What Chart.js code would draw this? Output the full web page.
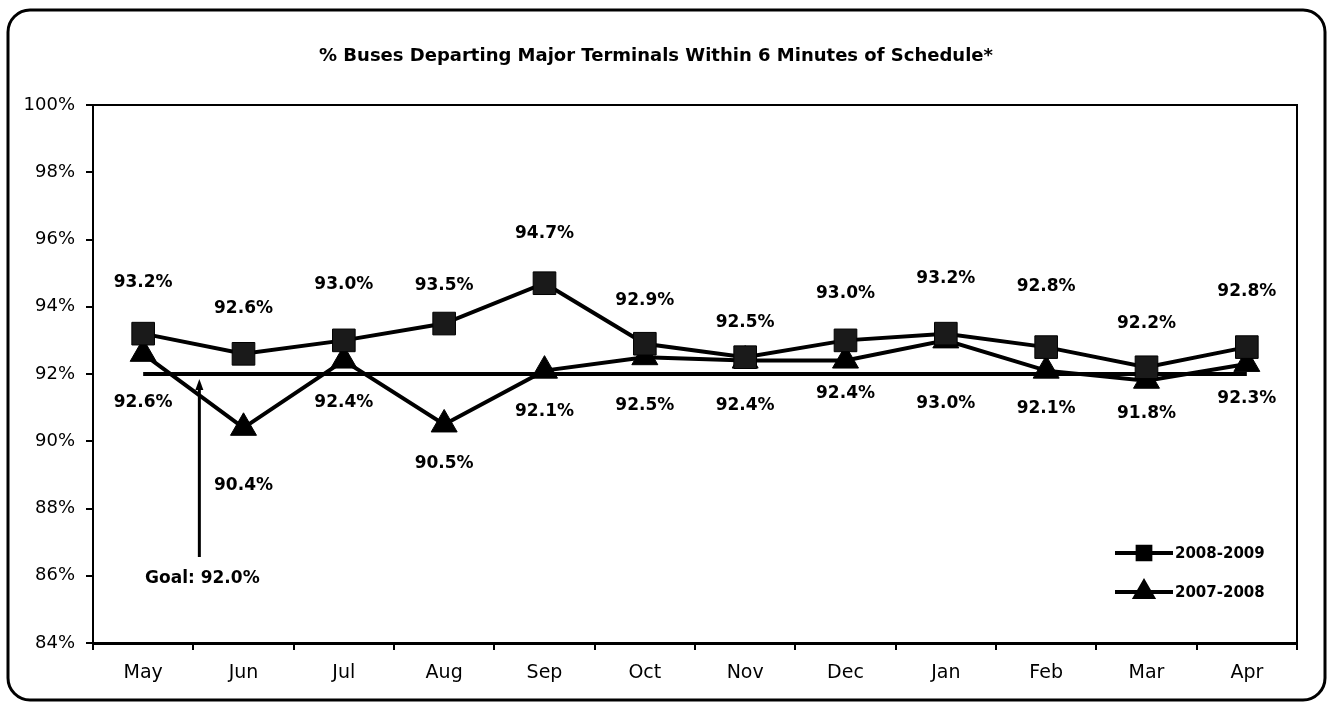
<!DOCTYPE html>
<html lang="en">
<head>
  <meta charset="UTF-8">
  <title>% Buses Departing Major Terminals</title>
  <script src="https://cdn.jsdelivr.net/npm/chart.js"></script>
  <style>
    body { margin: 0; background: #fff; }
    #wrap { width: 1333px; height: 704px; }
  </style>
</head>
<body>
  <div id="wrap"><canvas id="graph" width="1333" height="704"></canvas></div>

  <script>
    // data
    const months = ["May", "Jun", "Jul", "Aug", "Sep", "Oct", "Nov", "Dec", "Jan", "Feb", "Mar", "Apr"];
    const season0809 = [93.2, 92.6, 93.0, 93.5, 94.7, 92.9, 92.5, 93.0, 93.2, 92.8, 92.2, 92.8];
    const season0708 = [92.6, 90.4, 92.4, 90.5, 92.1, 92.5, 92.4, 92.4, 93.0, 92.1, 91.8, 92.3];
    const goalLine = [92, 92, 92, 92, 92, 92, 92, 92, 92, 92, 92, 92];
    const goalValue = 92.0;
    const yTickValues = [84, 86, 88, 90, 92, 94, 96, 98, 100];

    // label placement (px from the point), labels were hand placed in the original
    const upperDy = [-51, -45, -56, -38, -50, -43, -35, -47, -55, -61, -44, -56];
    const lowerDy = [49, 58, 42, 39, 41, 48, 45, 33, 63, 38, 33, 35];

    const FONT = "'DejaVu Sans', sans-serif";

    const decor = {
      id: 'decor',
      beforeDraw(chart) {
        const c = chart.ctx;
        c.save();
        c.strokeStyle = '#000';
        c.lineWidth = 3;
        c.beginPath();
        c.roundRect(8, 10, 1317, 690, 22);
        c.stroke();
        c.restore();
      },
      afterDatasetsDraw(chart) {
        const c = chart.ctx;
        const a = chart.chartArea;
        const x = chart.scales.x;
        const y = chart.scales.y;
        c.save();

        // plot box top / right
        c.strokeStyle = '#000';
        c.lineWidth = 2;
        c.beginPath();
        c.moveTo(a.left, a.top);
        c.lineTo(a.right, a.top);
        c.lineTo(a.right, a.bottom);
        c.stroke();

        // title
        c.fillStyle = '#000';
        c.font = 'bold 18px ' + FONT;
        c.textAlign = 'center';
        c.textBaseline = 'middle';
        c.fillText('% Buses Departing Major Terminals Within 6 Minutes of Schedule*', 656, 56);

        // value labels
        c.font = 'bold 17px ' + FONT;
        chart.getDatasetMeta(0).data.forEach((p, i) => {
          c.fillText(season0809[i].toFixed(1) + '%', p.x, p.y + upperDy[i]);
        });
        chart.getDatasetMeta(1).data.forEach((p, i) => {
          c.fillText(season0708[i].toFixed(1) + '%', p.x, p.y + lowerDy[i]);
        });

        // goal callout
        const gx = x.getPixelForValue(0) + 0.56 * (x.getPixelForValue(1) - x.getPixelForValue(0));
        const gy = y.getPixelForValue(goalValue);
        c.lineWidth = 3;
        c.beginPath();
        c.moveTo(gx, 557);
        c.lineTo(gx, gy + 10);
        c.stroke();
        c.beginPath();
        c.moveTo(gx, gy + 5);
        c.lineTo(gx - 4, gy + 16);
        c.lineTo(gx + 4, gy + 16);
        c.closePath();
        c.fill();
        c.font = 'bold 17px ' + FONT;
        c.fillText('Goal: ' + goalValue.toFixed(1) + '%', gx + 3, 579);

        // legend
        const items = [
          { text: '2008-2009', style: 'rect', r: 9, y: 553 },
          { text: '2007-2008', style: 'triangle', r: 10, y: 592 }
        ];
        items.forEach(it => {
          c.lineWidth = 4;
          c.beginPath();
          c.moveTo(1115, it.y);
          c.lineTo(1173, it.y);
          c.stroke();
          Chart.helpers.drawPoint(c, { pointStyle: it.style, radius: it.r, borderWidth: 1 }, 1144, it.y);
          c.fill();
          c.font = 'bold 15px ' + FONT;
          c.textAlign = 'left';
          c.fillText(it.text, 1175, it.y + 1);
        });
        c.restore();
      }
    };

    new Chart(document.getElementById('graph'), {
      type: 'line',
      data: {
        labels: months,
        datasets: [
          {
            label: '2008-2009',
            data: season0809,
            borderColor: '#000',
            backgroundColor: '#1a1a1a',
            borderWidth: 4,
            pointStyle: 'rect',
            pointRadius: 16,
            pointBorderWidth: 1,
            fill: false,
            tension: 0
          },
          {
            label: '2007-2008',
            data: season0708,
            borderColor: '#000',
            backgroundColor: '#000',
            borderWidth: 4,
            pointStyle: 'triangle',
            pointRadius: 15,
            pointBorderWidth: 1,
            fill: false,
            tension: 0
          },
          {
            label: 'Goal',
            data: goalLine,
            borderColor: '#000',
            borderWidth: 4,
            pointRadius: 0,
            fill: false
          }
        ]
      },
      options: {
        responsive: false,
        animation: false,
        events: [],
        layout: { padding: { top: 105, left: 20, right: 36, bottom: 11 } },
        plugins: {
          legend: { display: false },
          title: { display: false },
          tooltip: { enabled: false }
        },
        scales: {
          x: {
            offset: true,
            grid: { display: true, offset: true, drawOnChartArea: false, drawTicks: true, tickLength: 7, color: '#000', lineWidth: 2 },
            border: { display: true, color: '#000', width: 3 },
            ticks: { color: '#000', padding: 12, font: { family: FONT, size: 19 }, maxRotation: 0 },
            afterFit: s => { s.height = 50; }
          },
          y: {
            min: 84,
            max: 100,
            afterBuildTicks: s => { s.ticks = yTickValues.map(v => ({ value: v })); },
            grid: { display: true, drawOnChartArea: false, drawTicks: true, tickLength: 7, color: '#000', lineWidth: 2 },
            border: { display: true, color: '#000', width: 2 },
            ticks: { color: '#000', padding: 11, font: { family: FONT, size: 18 }, callback: v => v + '%' },
            afterFit: s => { s.width = 73; }
          }
        }
      },
      plugins: [decor]
    });
  </script>
</body>
</html>
